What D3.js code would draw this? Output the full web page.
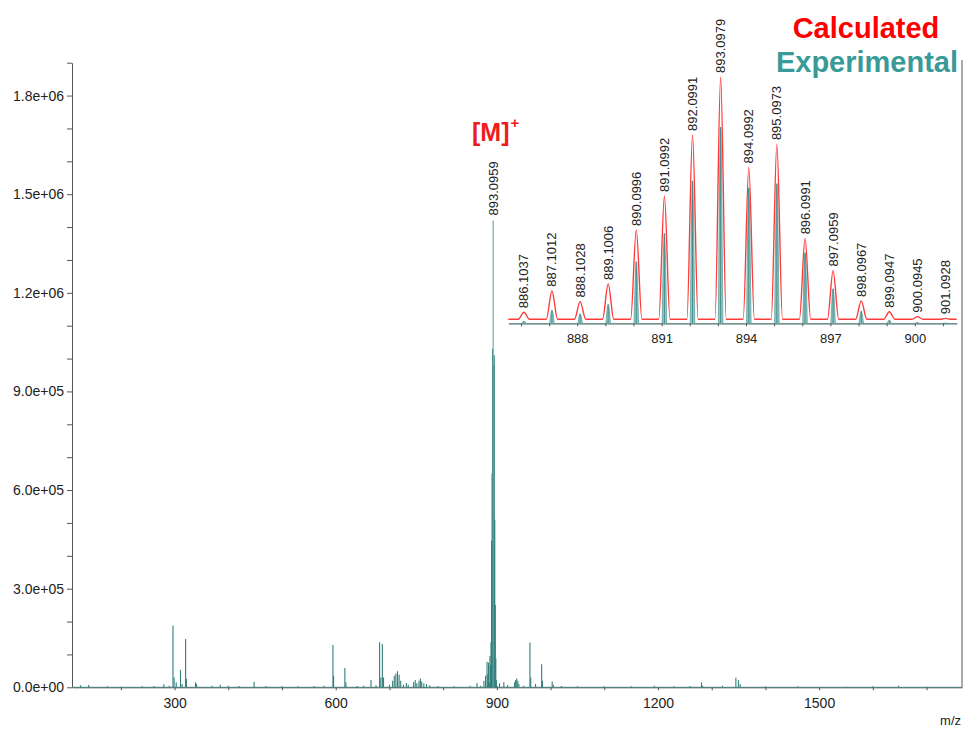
<!DOCTYPE html>
<html>
<head>
<meta charset="utf-8">
<script src="https://cdn.jsdelivr.net/npm/d3@7"></script>
<style>
  body { margin: 0; background: #fff; }
  svg { display: block; font-family: "Liberation Sans", Arial, sans-serif; }
</style>
</head>
<body>
<div class="chart"></div>
<script>
// main spectrum peaks (outside the molecular ion cluster)
const mainMz = [125, 140, 175, 200, 240, 262, 280, 290, 297, 299, 303, 311, 314, 320.5, 322, 339, 341, 370, 385, 400, 420, 448, 470, 500, 530, 560, 578,
  594.8, 596, 617, 619, 640, 652, 665.7, 675, 681.7, 684, 686.8, 689, 700, 706, 709, 712, 715, 718, 721, 726, 731.5, 735, 745, 748, 751, 755, 757.6, 760, 764, 769, 775, 790, 820, 850,
  863, 870, 876, 879, 881.7, 883, 884.5, 905, 913, 920, 933, 935, 937, 939, 941, 950, 961.6, 963, 972, 983.4, 985, 1003, 1005, 1020, 1050, 1100, 1150, 1193, 1230, 1260,
  1281, 1283, 1320, 1345, 1349.7, 1353, 1400, 1460, 1550, 1600, 1648, 1700]
const mainInt = [6e3, 7e3, 3e3, 2e3, 3e3, 4e3, 9e3, 5e3, 1.88e5, 3e4, 1.5e4, 5.3e4, 1e4, 1.47e5, 2.5e4, 1.5e4, 1e4, 5e3, 8e3, 5e3, 4e3, 1.7e4, 4e3, 3e3, 3e3, 4e3, 5e3,
  1.29e5, 3.5e4, 5.9e4, 1.5e4, 4e3, 5e3, 2.2e4, 6e3, 1.37e5, 3e4, 1.32e5, 3e4, 8e3, 2e4, 3.5e4, 4.2e4, 4.9e4, 3.8e4, 2e4, 8e3, 1.3e4, 8e3, 1.5e4, 2.2e4, 1.2e4, 2e4, 2.7e4, 1.8e4, 1.2e4, 1e4, 6e3, 4e3, 3e3, 5e3,
  1.3e4, 5e3, 2e4, 3.5e4, 7.8e4, 4e4, 7.5e4, 1.2e4, 1.5e4, 6e3, 1.5e4, 2.2e4, 2.7e4, 2e4, 1e4, 5e3, 1.36e5, 3e4, 1e4, 7e4, 2e4, 1.8e4, 8e3, 4e3, 3e3, 3e3, 3e3, 5e3, 3e3, 4e3,
  1.5e4, 5e3, 5e3, 2.9e4, 2.2e4, 1e4, 3e3, 3e3, 2e3, 3e3, 5e3, 2e3]

// isotope cluster [M]+
const isoMz = [886.1037, 887.1012, 888.1028, 889.1006, 890.0996, 891.0992, 892.0991, 893.0979, 894.0992, 895.0973, 896.0991, 897.0959, 898.0967, 899.0947, 900.0945, 901.0928]
const isoLabels = ["886.1037", "887.1012", "888.1028", "889.1006", "890.0996", "891.0992", "892.0991", "893.0979", "894.0992", "895.0973", "896.0991", "897.0959", "898.0967", "899.0947", "900.0945", "901.0928"]
const calcInt = [2.9, 11.8, 7.3, 14.6, 36.9, 50.9, 76.1, 100, 62.7, 72.3, 33.4, 20.1, 7.6, 3.1, 1.1, 0.4]
const expInt = [1.4e4, 9.5e4, 6.8e4, 1.37e5, 4.46e5, 6.5e5, 1.03e6, 1.42e6, 9.8e5, 1.01e6, 5.1e5, 2.5e5, 8.8e4, 2.2e4, 5e3, 2e3]

const yTicks = d3.range(0, 1900001, 100000)
const xTicks = d3.range(200, 1701, 100)
const insetTicks = d3.range(886, 902)
const insetLabelTicks = [888, 891, 894, 897, 900]

const width = 965, height = 729

const svg = d3.select(".chart").append("svg")
  .attr("width", width)
  .attr("height", height)

function expFmt(v) {
  var s = v.toExponential(1)
  var parts = s.split("e")
  var sign = parts[1][0]
  var ex = parts[1].slice(1)
  if (ex.length < 2) ex = "0" + ex
  return parts[0] + "e" + sign + ex
}

// main scales
var x = d3.scaleLinear().domain([109, 1766]).range([72, 962])
var y = d3.scaleLinear().domain([0, 1900000]).range([687.3, 62.7])

var allPeaks = mainMz.map((m, i) => ({mz: m, v: mainInt[i]}))
  .concat(isoMz.map((m, i) => ({mz: m, v: expInt[i]})))
  .sort((a, b) => a.v - b.v)

// axes
var yAxis = svg.append("g")
  .attr("transform", "translate(72,0)")
  .call(d3.axisLeft(y).tickValues(yTicks).tickSize(5).tickSizeOuter(0)
    .tickFormat(d => d % 300000 === 0 ? expFmt(d) : ""))
var xAxis = svg.append("g")
  .attr("transform", "translate(0," + y(0) + ")")
  .call(d3.axisBottom(x).tickValues(xTicks).tickSize(3).tickSizeOuter(0)
    .tickFormat(d => d % 300 === 0 ? d : ""))

;[yAxis, xAxis].forEach(function(a) {
  a.select(".domain").attr("stroke", "#555")
  a.selectAll(".tick line").attr("stroke", "#555")
  a.selectAll(".tick text").attr("fill", "#222").style("font-size", "14px")
    .style("font-family", "Liberation Sans, Arial, sans-serif")
})
xAxis.selectAll(".tick text").attr("dy", "1.05em")

// spectrum baseline and sticks
svg.append("line")
  .attr("x1", x(109)).attr("x2", x(1766))
  .attr("y1", y(0)).attr("y2", y(0))
  .attr("stroke", "#4d807e")
  .attr("stroke-width", 1)

svg.append("g")
  .selectAll("line")
  .data(allPeaks)
  .enter()
  .append("line")
    .attr("x1", d => x(d.mz))
    .attr("x2", d => x(d.mz))
    .attr("y1", y(0))
    .attr("y2", d => y(d.v))
    .attr("stroke", d => d.v > 1.2e6 ? "#5fa6a4" : "#327f7c")
    .attr("stroke-width", 1.1)

// right border
svg.append("line")
  .attr("x1", 962).attr("x2", 962)
  .attr("y1", 60).attr("y2", y(0))
  .attr("stroke", "#555")

svg.append("text")
  .attr("x", 961).attr("y", 725)
  .attr("text-anchor", "end")
  .style("font-size", "13px")
  .attr("fill", "#222")
  .text("m/z")

// main peak label
svg.append("text")
  .attr("transform", "translate(" + x(893.0959) + "," + (y(1.42e6) - 5) + ") rotate(-90)")
  .attr("dy", "0.35em")
  .style("font-size", "13px")
  .attr("fill", "#222")
  .text("893.0959")

var mLabel = svg.append("text")
  .attr("x", 472).attr("y", 141)
  .attr("fill", "#ee1c1c")
  .style("font-size", "25px")
  .style("font-weight", "bold")
mLabel.append("tspan").text("[M]")
mLabel.append("tspan").attr("dy", -13).attr("dx", 1).style("font-size", "15px").text("+")

// legend text
svg.append("text")
  .attr("x", 866).attr("y", 38)
  .attr("text-anchor", "middle")
  .attr("fill", "#ff0000")
  .style("font-size", "29px").style("font-weight", "bold")
  .text("Calculated")
svg.append("text")
  .attr("x", 867).attr("y", 72)
  .attr("text-anchor", "middle")
  .attr("fill", "#3a9a98")
  .style("font-size", "29px").style("font-weight", "bold")
  .text("Experimental")

// inset
var xi = d3.scaleLinear().domain([885.55, 901.49]).range([508.3, 956.7])
var yCalc = d3.scaleLinear().domain([0, 100]).range([319.3, 77])
var yExp = d3.scaleLinear().domain([0, 1420000]).range([323.3, 127])

// calculated profile
var calcPts = [[885.55, 0]]
isoMz.forEach(function(m, i) {
  calcPts.push([m - 0.2, 0], [m, calcInt[i]], [m + 0.2, 0])
})
calcPts.push([901.49, 0])

svg.append("path")
  .datum(calcPts)
  .attr("fill", "none")
  .attr("stroke", "#ff3c3c")
  .attr("stroke-width", 1.4)
  .attr("d", d3.line().x(d => xi(d[0])).y(d => yCalc(d[1])).curve(d3.curveMonotoneX))

var insetAxis = svg.append("g")
  .attr("transform", "translate(0," + yExp(0) + ")")
  .call(d3.axisBottom(xi).tickValues(insetTicks).tickSize(3).tickSizeOuter(0)
    .tickFormat(d => insetLabelTicks.includes(d) ? d : ""))
insetAxis.select(".domain").attr("stroke", "#456f6d").attr("stroke-width", 1.2)
insetAxis.selectAll(".tick line").attr("stroke", "#555")
insetAxis.selectAll(".tick text").attr("fill", "#222").style("font-size", "13px")
  .style("font-family", "Liberation Sans, Arial, sans-serif").attr("dy", "1.05em")

// experimental peaks
var expLine = d3.line().x(d => xi(d[0])).y(d => yExp(d[1])).curve(d3.curveMonotoneX)
svg.append("g")
  .selectAll("path")
  .data(isoMz.map((m, i) => [[m - 0.08, 0], [m, expInt[i]], [m + 0.08, 0]]))
  .enter()
  .append("path")
    .attr("d", expLine)
    .attr("fill", "#94c7c5")
    .attr("stroke", "#4f9895")
    .attr("stroke-width", 0.7)

svg.append("g")
  .selectAll("line")
  .data(isoMz.map((m, i) => ({mz: m, v: expInt[i]})))
  .enter()
  .append("line")
    .attr("x1", d => xi(d.mz)).attr("x2", d => xi(d.mz))
    .attr("y1", yExp(0)).attr("y2", d => yExp(d.v))
    .attr("stroke", "#3a8784")
    .attr("stroke-width", 0.9)

// isotope labels
svg.append("g")
  .selectAll("text")
  .data(isoMz.map((m, i) => ({mz: m, v: calcInt[i], label: isoLabels[i]})))
  .enter()
  .append("text")
    .attr("transform", d => "translate(" + xi(d.mz) + "," + (yCalc(d.v) - 4) + ") rotate(-90)")
    .attr("dy", "0.35em")
    .style("font-size", "13px")
    .attr("fill", "#222")
    .text(d => d.label)
</script>
</body>
</html>
